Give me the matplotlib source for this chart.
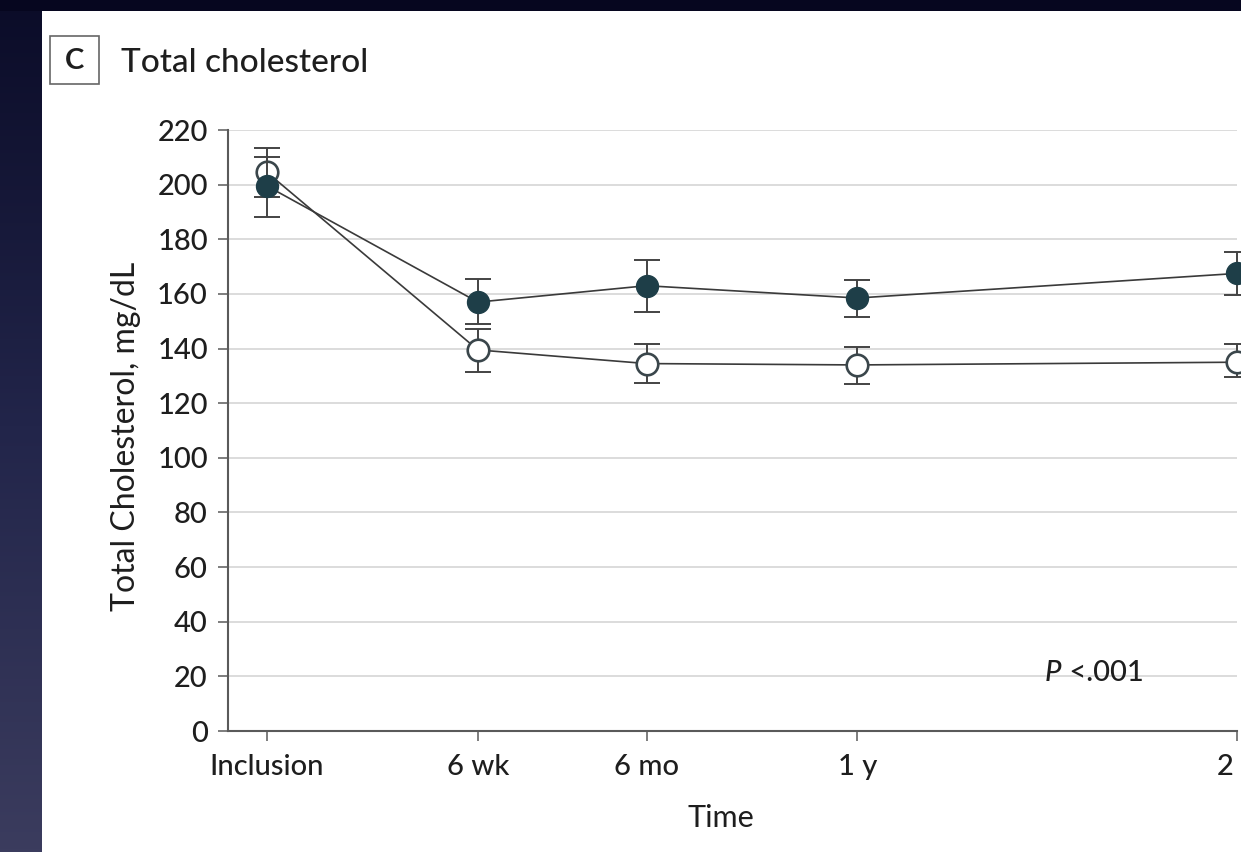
import matplotlib
matplotlib.use('Agg')
import matplotlib.pyplot as plt
import numpy as np
from matplotlib.patches import Rectangle
from matplotlib.colors import LinearSegmentedColormap

# ---- data ----
time_labels = ['Inclusion', '6 wk', '6 mo', '1 y', '2 y']
time_pos = [0, 1, 1.8, 2.8, 4.6]
y_ticks = [0, 20, 40, 60, 80, 100, 120, 140, 160, 180, 200, 220]

filled_mean = [199.5, 157.0, 163.0, 158.5, 167.5]
filled_lo = [188.0, 149.0, 153.5, 151.5, 159.5]
filled_hi = [210.0, 165.5, 172.5, 165.0, 175.5]

open_mean = [204.5, 139.5, 134.5, 134.0, 135.0]
open_lo = [195.5, 131.5, 127.5, 127.0, 129.5]
open_hi = [213.5, 147.0, 141.5, 140.5, 141.5]

plt.rcParams['font.family'] = ['Lato', 'DejaVu Sans']
plt.rcParams['font.weight'] = 500
TXT = '#1e1e1e'

W, H = 1241, 852
fig = plt.figure(figsize=(W / 100, H / 100), dpi=100)
fig.patch.set_facecolor('white')

# slide background strips
bg = fig.add_axes([0, 0, 1, 1], zorder=-10)
grad = np.linspace(0, 1, 256)[:, None]
cmap = LinearSegmentedColormap.from_list('bgc', ['#0b0c28', '#22254a', '#3b3c5e'])
bg.imshow(grad, extent=[0, 42, H, 0], cmap=cmap, aspect='auto')
bg.add_patch(Rectangle((0, 0), W, 11, color='#06061f', lw=0))
bg.set_xlim(0, W)
bg.set_ylim(H, 0)
bg.axis('off')

# panel label
fig.patches.append(Rectangle((50 / W, 1 - 84 / H), 49 / W, 48 / H, transform=fig.transFigure,
                             fill=False, ec='#666666', lw=1.2))
fig.text(75 / W, 1 - 61 / H, 'C', fontsize=21, fontweight='bold', ha='center', va='center', color=TXT)
fig.text(121 / W, 1 - 72 / H, 'Total cholesterol', fontsize=24, ha='left', va='baseline', color=TXT)

ax = fig.add_axes([228 / W, (H - 731) / H, 1009 / W, 601 / H])
ax.set_xlim(-0.185, 4.6)
ax.set_ylim(0, 220)

line_c = '#3a3a3a'
err_c = '#434343'

def draw(mean, lo, hi, z, **mk):
    ax.plot(time_pos, mean, color=line_c, lw=1.2, zorder=z, clip_on=False)
    yerr = [np.subtract(mean, lo), np.subtract(hi, mean)]
    cont = ax.errorbar(time_pos, mean, yerr=yerr, fmt='none', ecolor=err_c,
                       elinewidth=1.4, capsize=9.5, capthick=1.4, zorder=z)
    for art in cont.get_children():
        art.set_clip_on(False)
    ax.plot(time_pos, mean, 'o', ls='none', zorder=z + 1, clip_on=False, **mk)

draw(open_mean, open_lo, open_hi, 3, ms=15.5, mfc='white', mec='#3a464b', mew=1.9)
draw(filled_mean, filled_lo, filled_hi, 5, ms=15.8, mfc='#1e3e48', mec='#1e3e48', mew=1.0)

ax.set_xticks(time_pos)
ax.set_xticklabels(time_labels)
ax.set_yticks(y_ticks)
ax.yaxis.grid(True, color='#d6d6d6', lw=1.2)
ax.set_axisbelow(True)
for s in ['top', 'right']:
    ax.spines[s].set_visible(False)
for s in ['left', 'bottom']:
    ax.spines[s].set_color('#5a5a5a')
    ax.spines[s].set_linewidth(1.5)
ax.tick_params(axis='both', direction='out', length=7.5, width=1.1, color='#5a5a5a',
               labelsize=21, labelcolor=TXT)
ax.tick_params(axis='y', pad=7)
ax.tick_params(axis='x', pad=9)

ax.set_ylabel('Total Cholesterol, mg/dL', fontsize=23, color=TXT, va='center')
ax.yaxis.set_label_coords((126 - 228) / 1009, (731 - 436) / 601)
ax.set_xlabel('Time', fontsize=22, color=TXT, va='center')
ax.xaxis.set_label_coords((721 - 228) / 1009, (731 - 818) / 601)

tp = ax.text(3.69, 18.3, 'P', fontsize=21, style='italic', ha='left', va='baseline', color=TXT)
ax.annotate(' <.001', xy=(1, 0), xycoords=tp, xytext=(0, 0), textcoords='offset points',
            fontsize=21, ha='left', va='bottom', color=TXT)

fig.savefig('out.png', dpi=100)
